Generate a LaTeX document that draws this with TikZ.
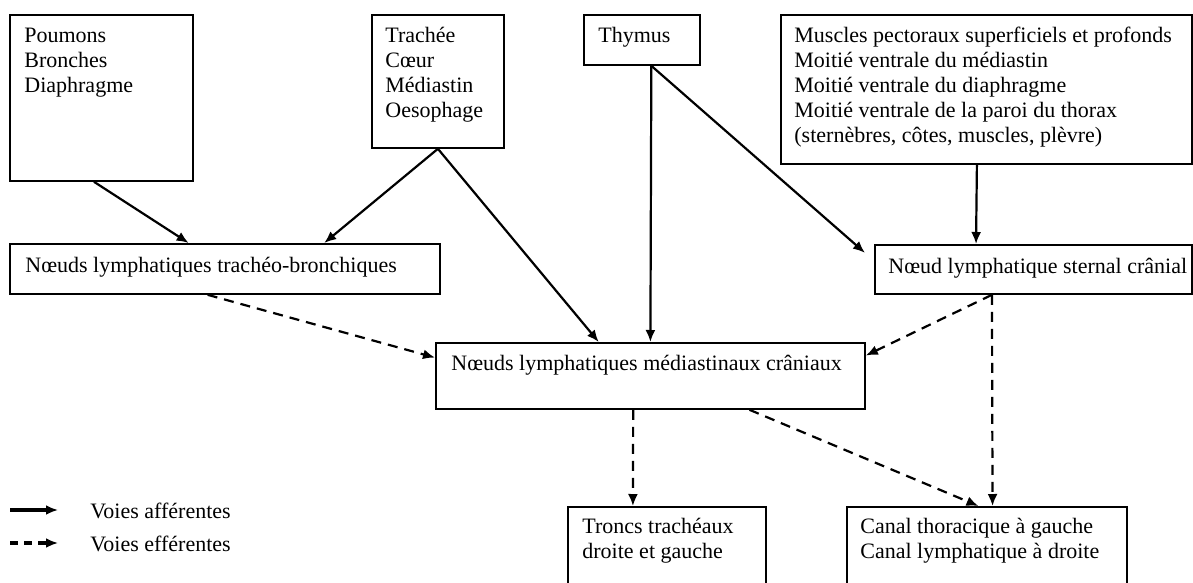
\documentclass[tikz,border=0pt]{standalone}
\usepackage{fontspec}
\setmainfont{Liberation Serif}
\usetikzlibrary{calc,arrows.meta,positioning}

\begin{document}
\begin{tikzpicture}[x=0.5pt,y=-0.5pt,
  font=\fontsize{11pt}{12.5pt}\selectfont,
  box/.style={draw,line width=0.9pt,anchor=north west,inner sep=0pt},
  txt/.style={anchor=base west,inner sep=0pt},
  aff/.style={-{Latex[length=6pt,width=5pt]},line width=1.1pt},
  eff/.style={aff,dash pattern=on 5pt off 3.5pt}]
\useasboundingbox (0,0) rectangle (1193,583);
% boites
\node[box,minimum width=91.5pt,minimum height=83pt] (poumons) at (9,14) {};
\node[box,minimum width=66pt,minimum height=66.5pt] (trachee) at (371,14) {};
\node[box,minimum width=58pt,minimum height=25pt] (thymus) at (583,14) {};
\node[box,minimum width=205.5pt,minimum height=74.5pt] (muscles) at (780,14) {};
\node[box,minimum width=215pt,minimum height=25pt] (trachbron) at (9,243) {};
\node[box,minimum width=158.5pt,minimum height=24.5pt] (sternal) at (874,244) {};
\node[box,minimum width=214.5pt,minimum height=33pt] (mediast) at (435,342) {};
\node[box,minimum width=99pt,minimum height=43pt] (troncs) at (567,506) {};
\node[box,minimum width=140pt,minimum height=43pt] (canal) at (846,506) {};
% textes
\node[txt] (poumons-t) at ($(poumons.north west)+(15,29)$)
  {\begin{tabular}[t]{@{}l@{}}Poumons\\Bronches\\Diaphragme\end{tabular}};
\node[txt] (trachee-t) at ($(trachee.north west)+(14,29)$)
  {\begin{tabular}[t]{@{}l@{}}Trachée\\Cœur\\Médiastin\\Oesophage\end{tabular}};
\node[txt] (thymus-t) at ($(thymus.north west)+(15,29)$) {Thymus};
\node[txt] (muscles-t) at ($(muscles.north west)+(14,29)$)
  {\begin{tabular}[t]{@{}l@{}}Muscles pectoraux superficiels et profonds\\
   Moitié ventrale du médiastin\\Moitié ventrale du diaphragme\\
   Moitié ventrale de la paroi du thorax\\(sternèbres, côtes, muscles, plèvre)\end{tabular}};
\node[txt] (trachbron-t) at ($(trachbron.north west)+(16,29)$) {Nœuds lymphatiques trachéo-bronchiques};
\node[txt] (sternal-t) at ($(sternal.north west)+(14,29)$) {Nœud lymphatique sternal crânial};
\node[txt] (mediast-t) at ($(mediast.north west)+(16,28)$) {Nœuds lymphatiques médiastinaux crâniaux};
\node[txt] (troncs-t) at ($(troncs.north west)+(15,27)$)
  {\begin{tabular}[t]{@{}l@{}}Troncs trachéaux\\droite et gauche\end{tabular}};
\node[txt] (canal-t) at ($(canal.north west)+(14,27)$)
  {\begin{tabular}[t]{@{}l@{}}Canal thoracique à gauche\\Canal lymphatique à droite\end{tabular}};
% voies afferentes
\draw[aff] ($(poumons.south west)!0.46!(poumons.south east)$) -- ($(trachbron.north west)!0.416!(trachbron.north east)$);
\draw[aff] (trachee.south) -- ($(trachbron.north west)!0.73!(trachbron.north east)$);
\draw[aff] (trachee.south) -- ($(mediast.north west)!0.38!(mediast.north east)$);
\draw[aff] ($(thymus.south west)!0.58!(thymus.south east)$) -- (mediast.north);
\draw[aff,shorten >=6pt] ($(thymus.south west)!0.58!(thymus.south east)$) -- ($(sternal.north west)!0.33!(sternal.south west)$);
\draw[aff] ($(muscles.south west)!0.477!(muscles.south east)$) -- ($(sternal.north west)!0.32!(sternal.north east)$);
% voies efferentes
\draw[eff] ($(trachbron.south west)!0.46!(trachbron.south east)$) -- ($(mediast.north west)!0.23!(mediast.south west)$);
\draw[eff] ($(sternal.south west)!0.37!(sternal.south east)$) -- ($(mediast.north east)!0.2!(mediast.south east)$);
\draw[eff] ($(sternal.south west)!0.37!(sternal.south east)$) -- ($(canal.north west)!0.52!(canal.north east)$);
\draw[eff] ($(mediast.south west)!0.46!(mediast.south east)$) -- ($(troncs.north west)!0.33!(troncs.north east)$);
\draw[eff] ($(mediast.south west)!0.73!(mediast.south east)$) -- ($(canal.north west)!0.47!(canal.north east)$);
% legende
\coordinate (la1) at (10,510);
\coordinate (la2) at (58,510);
\coordinate (le1) at (10,543);
\coordinate (le2) at (58,543);
\draw[aff,line width=1.6pt] (la1) -- (la2);
\draw[eff,line width=1.6pt,dash pattern=on 4pt off 3pt] (le1) -- (le2);
\node[txt] (laff) at (90,518) {Voies afférentes};
\node[txt] (leff) at (90,551) {Voies efférentes};
\end{tikzpicture}
\end{document}
